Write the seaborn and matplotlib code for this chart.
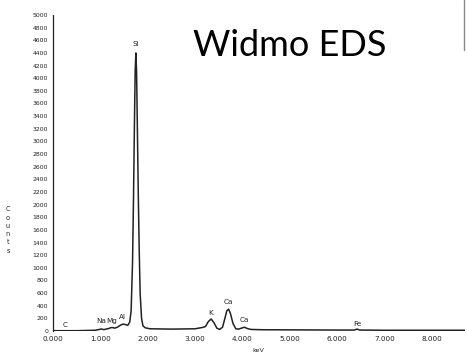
import matplotlib
matplotlib.use("Agg")
import matplotlib.pyplot as plt
import seaborn as sns
import pandas as pd
from matplotlib.lines import Line2D

# spectrum (keV, counts)
energy_kev = [0.00, 0.50, 0.90, 0.98, 1.02, 1.07, 1.12, 1.18, 1.22, 1.26, 1.30,
              1.36, 1.42, 1.48, 1.54, 1.58, 1.62, 1.65, 1.68, 1.70, 1.72, 1.735,
              1.75, 1.765, 1.78, 1.80, 1.82, 1.84, 1.87, 1.90, 1.95, 2.05, 2.50,
              3.00, 3.15, 3.22, 3.28, 3.34, 3.40, 3.46, 3.52, 3.58, 3.63, 3.67,
              3.71, 3.75, 3.80, 3.86, 3.92, 3.98, 4.04, 4.10, 4.18, 4.40, 5.00,
              6.00, 6.36, 6.42, 6.48, 7.00, 8.00, 8.70]
counts = [5, 5, 12, 25, 32, 22, 30, 40, 52, 55, 45,
          60, 90, 110, 100, 90, 140, 320, 1100, 2100, 3300, 4100,
          4400, 4100, 3300, 2200, 1300, 600, 200, 80, 50, 35, 30,
          35, 55, 70, 150, 190, 130, 45, 25, 60, 200, 320,
          345, 270, 120, 35, 30, 45, 60, 40, 25, 20, 18,
          15, 15, 30, 15, 12, 12, 12]

# element markers
peak_names = ["C", "Na", "Mg", "Al", "Si", "K", "Ca", "Ca", "Fe"]
peak_kev = [0.26, 1.02, 1.24, 1.47, 1.74, 3.32, 3.70, 4.03, 6.42]
peak_label_y = [50, 110, 110, 180, 4500, 230, 410, 130, 70]

y_ticks = list(range(0, 5001, 200))
x_ticks = [0, 1, 2, 3, 4, 5, 6, 7, 8]

df = pd.DataFrame({"keV": energy_kev, "Counts": counts})

sns.set_style("white")
plt.rcParams["font.family"] = ["DejaVu Sans"]

fig = plt.figure(figsize=(4.67, 3.55), dpi=100)
ax = fig.add_axes([53 / 467, 1 - 331 / 355, (465 - 53) / 467, (331 - 15) / 355])

sns.lineplot(data=df, x="keV", y="Counts", ax=ax, color="#222222", linewidth=1.1)

for name, xk, yl in zip(peak_names, peak_kev, peak_label_y):
    ax.text(xk, yl, name, fontsize=5.2, ha="center", va="bottom", color="#222222")

ax.set_xlim(0, 8.7)
ax.set_ylim(0, 5000)
ax.set_yticks(y_ticks)
ax.set_yticklabels([str(v) for v in y_ticks], fontsize=4.4)
ax.set_xticks(x_ticks)
ax.set_xticklabels([f"{v}.000" for v in x_ticks], fontsize=5.2)
ax.tick_params(axis="both", direction="out", length=2, width=0.6, pad=1.5, colors="#222222")
ax.set_xlabel("")
ax.set_ylabel("")

for side in ["top", "right", "bottom"]:
    ax.spines[side].set_visible(False)
ax.spines["left"].set_color("#222222")
ax.spines["left"].set_linewidth(0.9)

fig.text(258 / 467, 1 - 350 / 355, "keV", fontsize=4.6, ha="center", va="center")
fig.text(8 / 467, 1 - 230 / 355, "C\no\nu\nn\nt\ns", fontsize=4.8, ha="center",
         va="center", linespacing=1.45)

fig.text(193 / 467, 1 - 46 / 355, "Widmo EDS", fontsize=26, family=["Lato", "DejaVu Sans"],
         ha="left", va="center", color="black")

fig.add_artist(Line2D([464 / 467, 464 / 467], [1.0, 1 - 50 / 355],
                      color="#888888", linewidth=1.0))

fig.savefig("out.png", dpi=100)
